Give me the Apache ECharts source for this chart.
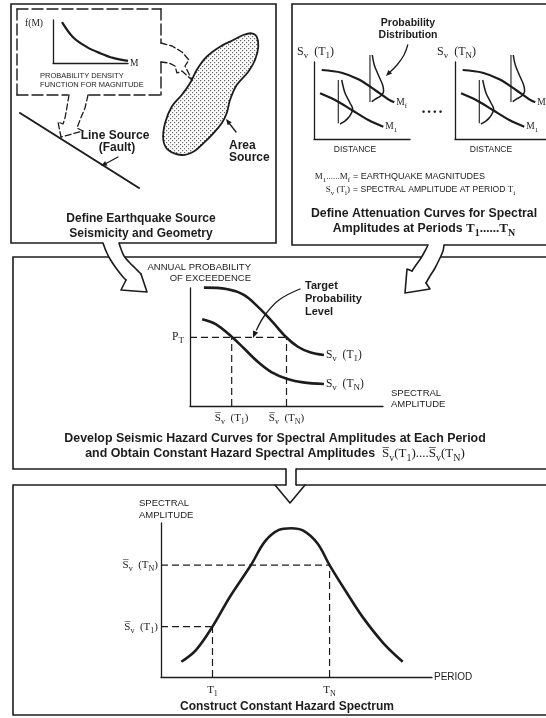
<!DOCTYPE html>
<html><head><meta charset="utf-8">
<script src="https://cdn.jsdelivr.net/npm/echarts@6/dist/echarts.min.js"></script>
<style>html,body{margin:0;padding:0;background:#fff}#c{width:546px;height:718px}</style>
</head><body><div id="c"></div>
<script>
// ---------------- DATA (axis units 0..10) ----------------
const fmCurve = [[1.2,9.5],[2.67,6.0],[4.53,3.7],[6.27,2.3],[8.0,1.2],[10,0.5]];
const attMf = [[0.8,8.96],[2.88,8.61],[4.62,7.75],[6.35,6.36],[7.74,5.15],[8.36,4.76]];
const attM1 = [[0.63,5.93],[2.19,5.06],[3.93,3.77],[5.66,2.47],[7.22,1.6]];
const pdfLowBase = [[2.53,7.66],[2.53,2.04]];
const pdfLow = [[2.89,7.66],[3.23,5.97],[3.75,4.68],[4.03,3.9],[3.65,2.86],[3.13,2.25],[2.71,1.95]];
const pdfHighBase = [[5.83,10.9],[5.83,4.8]];
const pdfHigh = [[6.07,10.91],[6.28,9.61],[6.70,8.31],[7.15,7.0],[7.25,6.2],[6.95,5.6],[6.35,5.16],[6.01,4.85]];
const hazT1 = [[0.72,10.03],[1.89,9.92],[2.79,9.41],[3.51,8.42],[4.24,7.2],[4.96,5.87],[5.59,5.02],[6.22,4.55],[6.94,4.32]];
const hazTN = [[0.63,7.35],[1.35,6.92],[2.16,5.87],[2.79,4.89],[3.51,3.75],[4.24,2.85],[5.05,2.29],[5.86,2.0],[6.94,1.86]];
const hazTarget = [5.82];
const hazAmps = [2.16, 5.0];
const spectrum = [[0.75,0.99],[1.29,1.75],[1.90,3.27],[2.55,5.23],[3.32,7.27],[3.83,8.79],[4.35,9.55],[4.80,9.66],[5.25,9.5],[5.77,8.68],[6.22,7.27],[6.79,5.65],[7.43,3.92],[8.21,2.19],[8.92,0.99]];
const specPeriods = [1.9, 6.22];
const specAmps = [3.27, 7.27];
// tick labels
const hazYLabels = ['{n|P}{s|T}'];
const hazXLabels = ['{n|S\u0305}{s|v}{n|  (T}{s|1}{n|)}', '{n|S\u0305}{s|v}{n|  (T}{s|N}{n|)}'];
const specXLabels = ['{n|T}{s|1}', '{n|T}{s|N}'];
const specYLabels = ['{n|S\u0305}{s|v}{n|  (T}{s|1}{n|)}', '{n|S\u0305}{s|v}{n|  (T}{s|N}{n|)}'];

// ---------------- STYLE ----------------
const K = '#1c1c1c';
const SANS = '"Liberation Sans", Arial, sans-serif';
const SERIF = '"Liberation Serif", "DejaVu Serif", serif';

function eRich(size) {
  return {
    n: {fontFamily: SERIF, fontSize: size, color: K, lineHeight: size + 5},
    s: {fontFamily: SERIF, fontSize: Math.round(size * 0.76), color: K, verticalAlign: 'bottom'}
  };
}
function gRich(size, bold, bsize) {
  const w = bold ? 'bold' : 'normal';
  return {
    n: {fontFamily: SERIF, fontSize: size, fill: K, lineHeight: size + 5, fontWeight: w},
    s: {fontFamily: SERIF, fontSize: Math.round(size * 0.76), fill: K, verticalAlign: 'bottom', fontWeight: w},
    b: {fontFamily: SANS, fontSize: bsize || size, fill: K, fontWeight: 'bold', lineHeight: size + 5},
    c: {fontFamily: SANS, fontSize: bsize || size, fill: K, lineHeight: size + 5}
  };
}

const chart = echarts.init(document.getElementById('c'), null, {renderer: 'canvas', width: 546, height: 718});

const grids = [
  {left: 53, top: 20, width: 75, height: 43},
  {left: 314, top: 62, width: 96, height: 77},
  {left: 455, top: 62, width: 96, height: 77},
  {left: 190, top: 288, width: 193, height: 118},
  {left: 161, top: 523, width: 271, height: 154}
].map(g => Object.assign(g, {containLabel: false, outerBoundsMode: 'none', show: false}));

function axisBase(i) {
  return {gridIndex: i, type: 'value', min: 0, max: 10,
    axisLine: {show: true, onZero: false, lineStyle: {color: K, width: 1.3}},
    axisTick: {show: false}, axisLabel: {show: false}, splitLine: {show: false}};
}
const xAxes = [0,1,2,3,4].map(axisBase);
const yAxes = [0,1,2,3,4].map(axisBase);

xAxes[0].name = 'M';
xAxes[0].nameGap = 2;
xAxes[0].nameTextStyle = {fontFamily: SERIF, fontSize: 9.5, color: K};
yAxes[0].name = 'f(M)';
yAxes[0].nameLocation = 'end';
yAxes[0].nameGap = -3;
yAxes[0].nameTextStyle = {fontFamily: SERIF, fontSize: 9.5, color: K, align: 'right', verticalAlign: 'middle', padding: [0, 10, 0, 0]};

function customLabels(values, labels, margin, size) {
  return {show: true, customValues: values, margin: margin,
    formatter: v => { const i = values.findIndex(x => Math.abs(x - v) < 1e-6); return i >= 0 ? labels[i] : ''; },
    rich: eRich(size || 11), color: K};
}
yAxes[3].axisLabel = customLabels(hazTarget, hazYLabels, 6, 11.5);
xAxes[3].axisLabel = customLabels(hazAmps, hazXLabels, 4, 11);
xAxes[4].axisLabel = customLabels(specPeriods, specXLabels, 5, 11);
yAxes[4].axisLabel = customLabels(specAmps, specYLabels, 3, 11);
xAxes[4].name = 'PERIOD';
xAxes[4].nameGap = 2;
xAxes[4].nameTextStyle = {fontFamily: SANS, fontSize: 10, color: K};

function curve(data, i, w, extra) {
  return Object.assign({type: 'line', xAxisIndex: i, yAxisIndex: i, data: data, smooth: 0.35,
    showSymbol: false, symbol: 'none', lineStyle: {color: K, width: w || 2.4}, itemStyle: {color: K},
    silent: true, clip: false, z: 3, animation: false}, extra || {});
}
function dashed(data, i) {
  return {type: 'line', xAxisIndex: i, yAxisIndex: i, data: data, showSymbol: false, symbol: 'none',
    lineStyle: {color: K, width: 1.2, type: [7, 4]}, silent: true, z: 2, animation: false};
}
function endLab(text, size) {
  return {endLabel: {show: true, formatter: text, rich: eRich(size), distance: 2, color: K}};
}

const series = [
  curve(fmCurve, 0, 2.2),
];
[1, 2].forEach(i => {
  series.push(curve(attMf, i, 2.2, endLab('{n|M}{s|f}', 9.5)));
  series.push(curve(attM1, i, 2.2, endLab('{n|M}{s|1}', 9.5)));
  series.push(curve(pdfLowBase, i, 1.1, {smooth: false}));
  series.push(curve(pdfLow, i, 1.5));
  series.push(curve(pdfHighBase, i, 1.1, {smooth: false}));
  series.push(curve(pdfHigh, i, 1.5));
});
series.push(curve(hazT1, 3, 2.6, endLab('{n|S}{s|v}{n|  (T}{s|1}{n|)}', 11.5)));
series.push(curve(hazTN, 3, 2.6, endLab('{n|S}{s|v}{n|  (T}{s|N}{n|)}', 11.5)));
series.push(dashed([[0, hazTarget[0]], [hazAmps[1], hazTarget[0]]], 3));
series.push(dashed([[hazAmps[0], 0], [hazAmps[0], hazTarget[0]]], 3));
series.push(dashed([[hazAmps[1], 0], [hazAmps[1], hazTarget[0]]], 3));
series.push(curve(spectrum, 4, 2.6));
series.push(dashed([[0, specAmps[1]], [specPeriods[1], specAmps[1]]], 4));
series.push(dashed([[specPeriods[1], 0], [specPeriods[1], specAmps[1]]], 4));
series.push(dashed([[0, specAmps[0]], [specPeriods[0], specAmps[0]]], 4));
series.push(dashed([[specPeriods[0], 0], [specPeriods[0], specAmps[0]]], 4));

// ---------------- DECORATION (frames, arrows, text) ----------------
function pl(points, o) { o = o || {};
  return {type: 'polyline', z: o.z || 10, silent: true, shape: {points: points, smooth: o.smooth || 0},
    style: {stroke: K, lineWidth: o.w || 1.5, fill: null, lineDash: o.dash || null, lineCap: 'round', lineJoin: 'round'}}; }
function pg(points, o) { o = o || {};
  return {type: 'polygon', z: o.z || 10, silent: true, shape: {points: points, smooth: o.smooth || 0},
    style: {fill: o.fill || K, stroke: o.stroke || null, lineWidth: o.w || 0}}; }
function head(from, tip, len, half) {
  const dx = tip[0] - from[0], dy = tip[1] - from[1], d = Math.hypot(dx, dy), ux = dx / d, uy = dy / d;
  const bx = tip[0] - ux * len, by = tip[1] - uy * len;
  return pg([[tip[0], tip[1]], [bx - uy * half, by + ux * half], [bx + uy * half, by - ux * half]], {z: 12});
}
function tx(x, y, text, o) { o = o || {};
  const al = o.align || 'left';
  return {type: 'text', z: 20, silent: true, x: x, y: y,
    style: {text: text, font: o.font || ('8px ' + SANS), fill: K, textAlign: al, align: al,
      textVerticalAlign: 'middle', verticalAlign: 'middle', rich: o.rich}}; }
function rect(x, y, w, h) {
  return {type: 'rect', z: 4, silent: true, shape: {x: x, y: y, width: w, height: h},
    style: {stroke: K, fill: null, lineWidth: 1.6}}; }

const pat = document.createElement('canvas'); pat.width = 4; pat.height = 4;
(function () { const g = pat.getContext('2d'); g.fillStyle = '#fff'; g.fillRect(0, 0, 4, 4);
  g.fillStyle = '#666'; g.fillRect(0, 0, 1.2, 1.2); g.fillRect(2, 2, 1.2, 1.2); })();

const blob = [[251.7,33.3],[256.7,36.7],[258.3,46.7],[255,60],[248.3,71.7],[236.7,85],[230,100],[226.7,113.3],[221.7,123.3],[213.3,133.3],[203.3,143.3],[193.3,151.7],[181.7,155],[168.3,150],[163.3,140],[165,123.3],[171.7,106.7],[181.7,95],[190,83.3],[196.7,70],[206.7,56.7],[220,46.7],[233.3,40],[243.3,35]];

const gfx = [
  rect(11, 4, 265, 239), rect(292, 4, 270, 241), rect(13, 257, 560, 212), rect(13, 485, 560, 230),
  // dashed pdf box
  pl([[17, 9], [161, 9]], {dash: [11, 4], w: 1.4}),
  pl([[17, 9], [17, 95]], {dash: [11, 4], w: 1.4}),
  pl([[161, 9], [161, 43]], {dash: [11, 4], w: 1.4}),
  pl([[161, 62], [161, 95]], {dash: [11, 4], w: 1.4}),
  pl([[17, 95], [68, 95]], {dash: [11, 4], w: 1.4}),
  pl([[89, 95], [161, 95]], {dash: [11, 4], w: 1.4}),
  // dashed hollow arrows
  pl([[161, 43], [172, 46], [182, 52], [189, 60], [185, 66], [192, 80]], {dash: [6, 3], w: 1.3}),
  pl([[161, 62], [169, 63], [175, 66], [177, 73], [182, 71], [192, 80]], {dash: [6, 3], w: 1.3}),
  pl([[69, 95], [67, 107], [65, 118], [63, 124], [58, 122], [61, 137]], {dash: [6, 3], w: 1.3}),
  pl([[88, 95], [85, 108], [80, 120], [77, 128], [83, 131], [61, 137]], {dash: [6, 3], w: 1.3}),
  // fault & area source
  pl([[20, 113], [139, 188]], {w: 2}),
  pl([[118, 157], [105, 164]], {w: 1.3}), head([118, 157], [101, 166], 6, 2.5),
  {type: 'polygon', z: 8, silent: true, shape: {points: blob, smooth: 0.35},
    style: {fill: {type: 'pattern', image: pat, repeat: 'repeat'}, stroke: K, lineWidth: 1.8}},
  pl([[236, 132], [229, 123]], {w: 1.3}), head([236, 132], [226, 119], 6, 2.5),
  // top-left texts
  tx(40, 76, 'PROBABILITY DENSITY', {font: '7.5px ' + SANS}),
  tx(40, 85, 'FUNCTION FOR MAGNITUDE', {font: '7.5px ' + SANS}),
  tx(115, 136, 'Line Source', {font: 'bold 12px ' + SANS, align: 'center'}),
  tx(117, 148, '(Fault)', {font: 'bold 12px ' + SANS, align: 'center'}),
  tx(229, 146, 'Area', {font: 'bold 12px ' + SANS}),
  tx(229, 158, 'Source', {font: 'bold 12px ' + SANS}),
  tx(141, 219, 'Define Earthquake Source', {font: 'bold 12px ' + SANS, align: 'center'}),
  tx(141, 234, 'Seismicity and Geometry', {font: 'bold 12px ' + SANS, align: 'center'}),
  // top-right texts
  tx(408, 23, 'Probability', {font: 'bold 10.5px ' + SANS, align: 'center'}),
  tx(408, 35, 'Distribution', {font: 'bold 10.5px ' + SANS, align: 'center'}),
  pl([[407.7, 45], [404, 55], [397, 65], [390.5, 71.5]], {smooth: 0.4, w: 1.3}),
  head([391.5, 70.5], [386, 76], 6, 2.6),
  tx(297, 52, '{n|S}{s|v}{n|  (T}{s|1}{n|)}', {rich: gRich(12)}),
  tx(437, 52, '{n|S}{s|v}{n|  (T}{s|N}{n|)}', {rich: gRich(12)}),
  tx(355, 150, 'DISTANCE', {font: '8.5px ' + SANS, align: 'center'}),
  tx(491, 150, 'DISTANCE', {font: '8.5px ' + SANS, align: 'center'}),
  tx(432, 113, '\u2022 \u2022 \u2022 \u2022', {font: 'bold 9px ' + SANS, align: 'center'}),
  tx(350, 177, '{n|M}{s|1}{n|......M}{s|f}', {rich: gRich(9), align: 'right'}),
  tx(353, 177, '= EARTHQUAKE MAGNITUDES', {font: '9px ' + SANS}),
  tx(350, 190, '{n|S}{s|v}{n| (T}{s|i}{n|)}', {rich: gRich(9), align: 'right'}),
  tx(353, 190, '{c|= SPECTRAL AMPLITUDE AT PERIOD }{n|T}{s|i}', {rich: gRich(9, false, 8.6)}),
  tx(424, 214, 'Define Attenuation Curves for Spectral', {font: 'bold 12.3px ' + SANS, align: 'center'}),
  tx(424, 229, '{b|Amplitudes at Periods }{n|T}{s|1}{n|......T}{s|N}', {rich: gRich(13, true, 12.3), align: 'center'}),
  // middle texts
  tx(251, 267, 'ANNUAL PROBABILITY', {font: '9.5px ' + SANS, align: 'right'}),
  tx(251, 278, 'OF EXCEEDENCE', {font: '9.5px ' + SANS, align: 'right'}),
  tx(391, 393, 'SPECTRAL', {font: '9.5px ' + SANS}),
  tx(391, 404, 'AMPLITUDE', {font: '9.5px ' + SANS}),
  tx(305, 286, 'Target', {font: 'bold 11px ' + SANS}),
  tx(305, 299, 'Probability', {font: 'bold 11px ' + SANS}),
  tx(305, 312, 'Level', {font: 'bold 11px ' + SANS}),
  pl([[300, 289], [279, 300], [265, 315], [256.5, 330]], {smooth: 0.4, w: 1.3}),
  head([256.5, 329], [253, 338], 7, 2.8),
  tx(275, 439, 'Develop Seismic Hazard Curves for Spectral Amplitudes at Each Period', {font: 'bold 12.4px ' + SANS, align: 'center'}),
  tx(275, 454, '{b|and Obtain Constant Hazard Spectral Amplitudes  }{n|S\u0305}{s|v}{n|(T}{s|1}{n|)....S\u0305}{s|v}{n|(T}{s|N}{n|)}', {rich: gRich(13, false, 12.4), align: 'center'}),
  // bottom texts
  tx(139, 503, 'SPECTRAL', {font: '9.5px ' + SANS}),
  tx(139, 515, 'AMPLITUDE', {font: '9.5px ' + SANS}),
  tx(287, 707, 'Construct Constant Hazard Spectrum', {font: 'bold 12px ' + SANS, align: 'center'}),
  // hollow arrow: top-left -> middle
  pg([[103,240],[103,243],[106,251],[110,259],[116,268],[123,277],[126,280],[121,290],[147,292],[141,274],[135,268],[129,262],[124,256],[121,249],[119,243],[119,240]], {fill: '#fff', z: 5}),
  pl([[103,243],[106,251],[110,259],[116,268],[123,277],[126,280]], {smooth: 0.3, w: 1.6, z: 6}),
  pl([[126,280],[121,290],[147,292],[141,274]], {w: 1.6, z: 6}),
  pl([[141,274],[135,268],[129,262],[124,256],[121,249],[119,243]], {smooth: 0.3, w: 1.6, z: 6}),
  // hollow arrow: top-right -> middle
  pg([[428,242],[428,245],[425,251],[421,258],[416,265],[412,271],[407,269],[405,293],[430,289],[426,283],[430,276],[435,268],[440,258],[443,251],[444,245],[444,242]], {fill: '#fff', z: 5}),
  pl([[428,245],[425,251],[421,258],[416,265],[412,271]], {smooth: 0.3, w: 1.6, z: 6}),
  pl([[412,271],[407,269],[405,293],[430,289],[426,283]], {w: 1.6, z: 6}),
  pl([[426,283],[430,276],[435,268],[440,258],[443,251],[444,245]], {smooth: 0.3, w: 1.6, z: 6}),
  // hollow arrow: middle -> bottom
  pg([[286,465],[296,465],[296,486],[286,486]], {fill: '#fff', z: 5}),
  pl([[286,469],[286,485]], {w: 1.6, z: 6}),
  pl([[296,469],[296,485]], {w: 1.6, z: 6}),
  pl([[275,485],[290,503],[305,485]], {w: 1.6, z: 6})
];

chart.setOption({
  animation: false,
  backgroundColor: '#fff',
  textStyle: {fontFamily: SANS},
  grid: grids,
  xAxis: xAxes,
  yAxis: yAxes,
  series: series,
  graphic: {elements: gfx}
});
</script>
</body></html>
